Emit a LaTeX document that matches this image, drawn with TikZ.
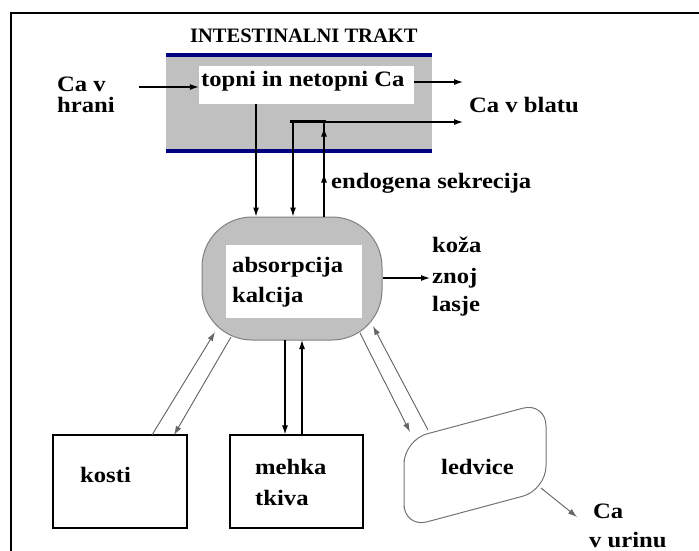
\documentclass[tikz,border=0pt]{standalone}
\usepackage{fontspec}
\setmainfont{Liberation Serif}[FakeStretch=1.12]
\newfontfamily\titlefont{Liberation Serif}
\usetikzlibrary{arrows.meta,decorations.markings}
\definecolor{navyline}{RGB}{0,0,128}
\definecolor{tractgray}{RGB}{192,192,192}
\begin{document}
\begin{tikzpicture}[x=1pt,y=-1pt,
  txt/.style={anchor=base west, inner sep=0pt, font=\fontsize{22}{26}\selectfont\bfseries},
  tip/.style={-{Latex[length=9pt,width=6pt]}},
  arr/.style={tip, line width=1.2pt},
  garr/.style={tip, line width=0.9pt, draw=black!60, fill=black!70},
  whitebox/.style={fill=white, inner sep=0pt},
  organ/.style={draw, line width=1.2pt, inner sep=0pt, minimum width=134pt, minimum height=93pt}
]
\useasboundingbox (0,0) rectangle (699,551);
% frame
\draw[line width=2pt] (11,551) -- (11,13) -- (699,13);

% intestinal tract
\node[anchor=base west, inner sep=0pt, font={\titlefont\bfseries\fontsize{20.5}{24}\selectfont}] (title) at (190,43) {INTESTINALNI TRAKT};
\fill[tractgray] (166,55) rectangle (432,151);
\draw[navyline, line width=4pt] (166,55) -- (432,55);
\draw[navyline, line width=4pt] (166,151) -- (432,151);
\node[whitebox, minimum width=215pt, minimum height=38pt] (pool) at (306.5,85) {};
\node[txt] (pooltxt) at (201,87) {topni in netopni Ca};

\node[txt] (hrana1) at (57,92) {Ca v};
\node[txt] (hrana2) at (57,112) {hrani};
\coordinate (inS) at (139,87);
\draw[arr] (inS) -- (pool.west |- inS);

\coordinate (outE) at (463,82);
\draw[arr] (pool.east |- outE) -- (outE);
\node[txt] (blatu) at (469,113) {Ca v blatu};

\coordinate (barL) at (290,121);
\coordinate (barR) at (326,121);
\draw[line width=3pt] (barL) -- (barR);
\coordinate (out2E) at (463,122);
\draw[arr] (barR |- out2E) -- (out2E);

% absorption blob
\node[draw=gray, line width=1pt, fill=tractgray, rounded corners=50pt, minimum width=180pt, minimum height=123pt, inner sep=0pt] (abs) at (292,278.5) {};
\node[whitebox, minimum width=136pt, minimum height=73pt] (absbox) at (294,281.5) {};
\node[txt] (abs1) at (232,272) {absorpcija};
\node[txt] (abs2) at (232,302) {kalcija};

% vertical connectors tract <-> blob
\coordinate (d1) at (256,104);
\draw[arr] (d1) -- (abs.north -| d1);
\coordinate (d2) at (293,121);
\draw[arr] (d2) -- (abs.north -| d2);
\coordinate (u3) at (324,121);
\draw[line width=1.2pt, postaction={decorate}, decoration={markings,
   mark=at position 0.45 with {\arrow{Latex[length=9pt,width=6pt]}},
   mark=at position 0.93 with {\arrow{Latex[length=9pt,width=6pt]}}}]
   (abs.north -| u3) -- (u3);
\node[txt] (endo) at (331,188) {endogena sekrecija};

% skin
\coordinate (skinE) at (430,278);
\draw[arr] (abs.east |- skinE) -- (skinE);
\node[txt] (koza) at (432,252) {koža};
\node[txt] (znoj) at (432,283) {znoj};
\node[txt] (lasje) at (432,311) {lasje};

% bones
\node[organ] (kosti) at (120,481.5) {};
\node[txt] (kostitxt) at (80,482) {kosti};
\coordinate (kA1) at (152,435);
\coordinate (kA2) at (215,332);
\coordinate (kB1) at (231,337);
\coordinate (kB2) at (174,435);
\draw[garr] (kA1) -- (kA2);
\draw[garr] (kB1) -- (kB2);

% soft tissue
\node[organ, minimum width=133pt] (mehka) at (296.5,481.5) {};
\node[txt] (mehka1) at (255,474) {mehka};
\node[txt] (mehka2) at (255,505) {tkiva};
\coordinate (mA) at (285,340);
\coordinate (mB) at (302,340);
\draw[arr] (mA) -- (mehka.north -| mA);
\draw[arr] (mehka.north -| mB) -- (mB);

% kidneys
\draw[draw=black!55, line width=1pt, rounded corners=24pt]
  (404,484) -- (404,440) -- (546,402) -- (546,490) -- (404,528) -- cycle;
\node[txt] (ledvice) at (441,474) {ledvice};
\coordinate (lC1) at (360,333);
\coordinate (lC2) at (410,432);
\coordinate (lD1) at (428,430);
\coordinate (lD2) at (373,326);
\draw[garr] (lC1) -- (lC2);
\draw[garr] (lD1) -- (lD2);
\coordinate (uS) at (541,488);
\coordinate (uE) at (577,517);
\draw[garr] (uS) -- (uE);
\node[txt] (urin1) at (593,518) {Ca};
\node[txt] (urin2) at (589,547) {v urinu};
\end{tikzpicture}
\end{document}
